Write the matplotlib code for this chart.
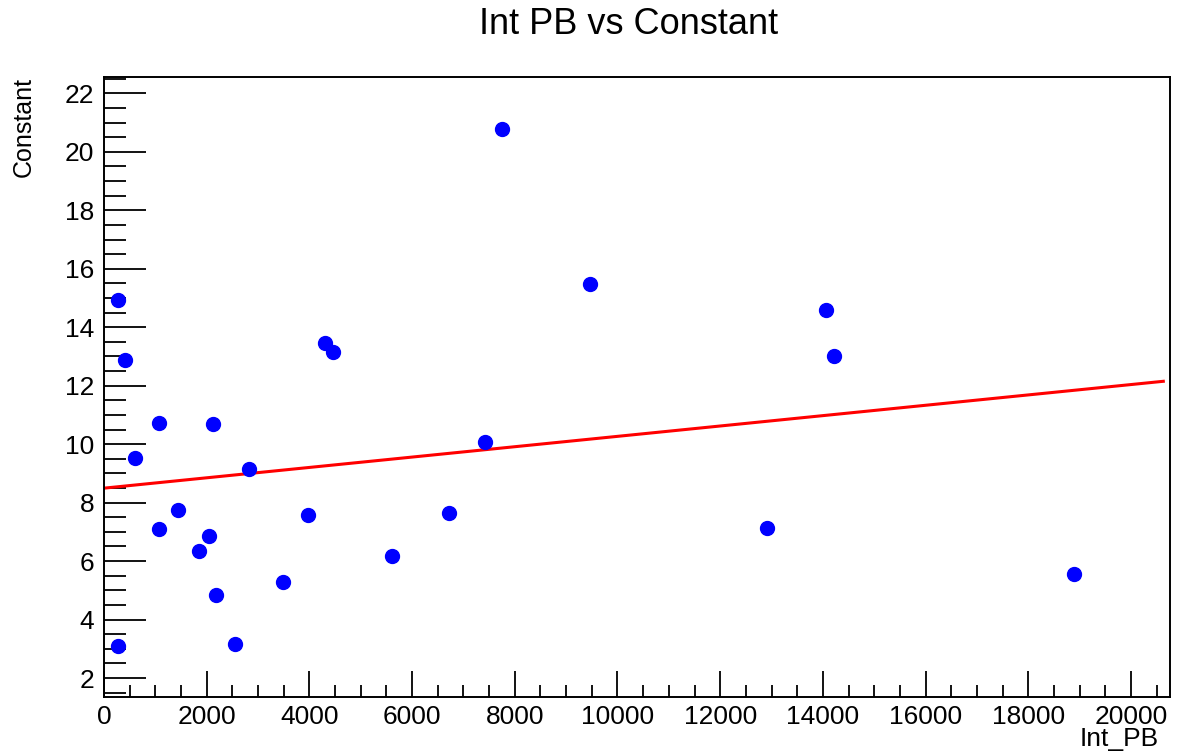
import matplotlib
matplotlib.use('Agg')
import matplotlib.pyplot as plt
from matplotlib.ticker import MultipleLocator

plt.rcParams['font.family'] = ['Liberation Sans', 'DejaVu Sans']

# data
int_pb = [273, 409, 267, 604, 1071, 2129, 1071, 1448, 1856, 2045, 2181, 2551, 2824,
          3480, 3966, 4304, 4466, 5602, 6718, 7420, 7744, 9464, 12917, 14060, 14210, 18890]
constant = [14.93, 12.87, 3.10, 9.51, 10.73, 10.69, 7.11, 7.74, 6.35, 6.87, 4.83, 3.18, 9.14,
            5.29, 7.57, 13.46, 13.14, 6.18, 7.63, 10.08, 20.78, 15.48, 7.13, 14.58, 13.02, 5.57]

# linear fit  p0 + p1*x
p0 = 8.495
p1 = 1.772e-4
fit_range = [0, 20630]

fig = plt.figure(figsize=(11.78, 7.55), dpi=100)
ax = fig.add_axes([0.0883, 0.0768, 0.9049, 0.8212])

ax.plot(int_pb, constant, 'o', color='#0000ff', markersize=10, zorder=3)
fx = fit_range
fy = [p0 + p1*x for x in fx]
ax.plot(fx, fy, '-', color='#ff0000', linewidth=2.2, zorder=2)

ax.set_xlim(0, 20760)
ax.set_ylim(1.35, 22.56)

ax.xaxis.set_major_locator(MultipleLocator(2000))
ax.xaxis.set_minor_locator(MultipleLocator(500))
ax.yaxis.set_major_locator(MultipleLocator(2))
ax.yaxis.set_minor_locator(MultipleLocator(0.5))

ax.tick_params(axis='both', which='both', direction='in', top=False, right=False,
               colors='black', labelsize=19, width=1.3)
ax.tick_params(axis='x', which='major', length=19, pad=6)
ax.tick_params(axis='x', which='minor', length=9)
ax.tick_params(axis='y', which='major', length=30, pad=7)
ax.tick_params(axis='y', which='minor', length=16)

for s in ax.spines.values():
    s.set_linewidth(1.4)
    s.set_color('black')

fig.text(0.534, 0.967, 'Int PB vs Constant', ha='center', va='center', fontsize=26)
fig.text(0.0204, 0.898, 'Constant', ha='center', va='top', rotation=90, fontsize=18)
fig.text(0.984, 0.0115, 'Int_PB', ha='right', va='baseline', fontsize=19)

fig.savefig('out.png', dpi=100)
